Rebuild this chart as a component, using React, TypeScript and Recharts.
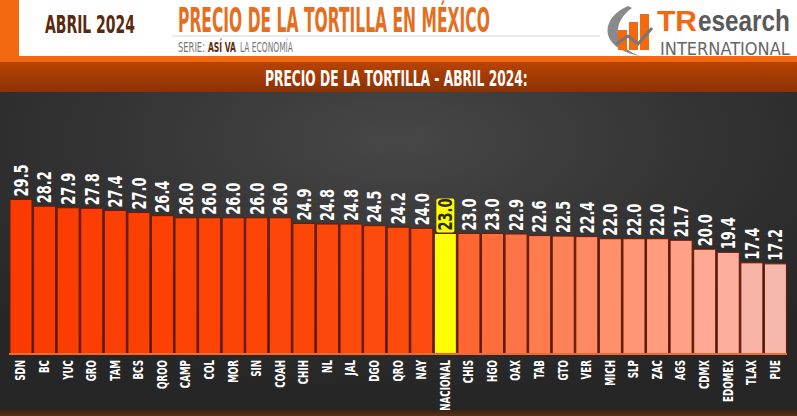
import { useLayoutEffect, useRef, useState } from 'react';
import { Bar, BarChart, Cell, LabelList, XAxis, YAxis } from 'recharts';

const STATES = [
  'SDN', 'BC', 'YUC', 'GRO', 'TAM', 'BCS', 'QROO', 'CAMP', 'COL', 'MOR', 'SIN',
  'COAH', 'CHIH', 'NL', 'JAL', 'DGO', 'QRO', 'NAY', 'NACIONAL', 'CHIS', 'HGO', 'OAX',
  'TAB', 'GTO', 'VER', 'MICH', 'SLP', 'ZAC', 'AGS', 'CDMX', 'EDOMEX', 'TLAX', 'PUE'
];

const PRICES = [
  29.5, 28.2, 27.9, 27.8, 27.4, 27.0, 26.4, 26.0, 26.0, 26.0, 26.0,
  26.0, 24.9, 24.8, 24.8, 24.5, 24.2, 24.0, 23.0, 23.0, 23.0, 22.9,
  22.6, 22.5, 22.4, 22.0, 22.0, 22.0, 21.7, 20.0, 19.4, 17.4, 17.2
];

const NATIONAL = 'NACIONAL';

// bar palette, strongest price first
const BAR_COLORS = [
  '#fb3a02', '#fb3c02', '#fc3d03', '#fc3e03', '#fc3f04', '#fc4004', '#fd4105', '#fd4206',
  '#fd4306', '#fd4407', '#fd4508', '#fd4609', '#fd470a', '#fd480b', '#fd490c', '#fd4a0d',
  '#fd4b0e', '#fd4c0f', '#ffff00', '#ff6633', '#ff6d3c', '#ff7446', '#ff7b50', '#ff8259',
  '#ff8963', '#ff906c', '#ff9775', '#ff9c7e', '#ffa187', '#fea994', '#fdae9c', '#f8b4a7',
  '#f5b8ab'
];

const data = STATES.map((state, i) => ({ state, price: PRICES[i] }));

const NARROW = "'Liberation Sans Narrow', 'DejaVu Sans Condensed', sans-serif";

// squeezes a header text horizontally to a wanted width
function FitText(props: any) {
  const { x, y, width, children, ...rest } = props;
  const ref = useRef<SVGTextElement>(null);
  const [sx, setSx] = useState(1);
  useLayoutEffect(() => {
    if (ref.current) {
      const len = ref.current.getComputedTextLength();
      if (len > 0) setSx(width / len);
    }
  }, [width]);
  return (
    <text ref={ref} x={0} y={0} transform={`translate(${x},${y}) scale(${sx},1)`} {...rest}>
      {children}
    </text>
  );
}

function ValueLabel(props: any) {
  const { x, y, width, value, index } = props;
  const cx = Number(x) + Number(width) / 2;
  const top = Number(y);
  const isNational = STATES[index] === NATIONAL;
  return (
    <g>
      {isNational && (
        <rect x={cx - 9} y={top - 35} width={18} height={34} rx={2} fill="#ffff00" />
      )}
      <text
        transform={`translate(${cx},${top - 3}) rotate(-90) scale(0.74,1)`}
        textAnchor="start"
        dominantBaseline="central"
        fontFamily={NARROW}
        fontWeight="bold"
        fontSize={19.5}
        fill={isNational ? '#2a2a00' : '#ffffff'}
      >
        {Number(value).toFixed(1)}
      </text>
    </g>
  );
}

function StateTick(props: any) {
  const { x, y, payload } = props;
  return (
    <text
      transform={`translate(${x},${Number(y) + 6}) rotate(-90) scale(0.72,1)`}
      textAnchor="end"
      dominantBaseline="central"
      fontFamily={NARROW}
      fontWeight="bold"
      fontSize={13.5}
      fill="#ffffff"
    >
      {payload.value}
    </text>
  );
}

function Header() {
  return (
    <svg width={797} height={92} style={{ position: 'absolute', left: 0, top: 0 }}>
      <defs>
        <linearGradient id="bandGrad" x1="0" y1="0" x2="0" y2="1">
          <stop offset="0%" stopColor="#b84303" />
          <stop offset="100%" stopColor="#8c3203" />
        </linearGradient>
      </defs>
      <rect x={0} y={0} width={797} height={57} fill="#ffffff" />
      <rect x={0} y={0} width={19} height={57} fill="#f2690f" />
      <rect x={0} y={56} width={797} height={6} fill="#f2690f" />
      <rect x={0} y={62} width={797} height={30} fill="url(#bandGrad)" />
      <line x1={172} y1={36} x2={600} y2={36} stroke="#d6d6d6" strokeWidth={1} />

      <FitText x={45} y={33} width={90} fontFamily={NARROW} fontWeight="bold" fontSize={25}
        fill="#5b2a0e">
        ABRIL 2024
      </FitText>
      <FitText x={178} y={32} width={312} fontFamily={NARROW} fontWeight="bold" fontSize={33}
        fill="#e46f1f">
        PRECIO DE LA TORTILLA EN MÉXICO
      </FitText>
      <FitText x={178} y={52} width={27} fontFamily={NARROW} fontSize={14} fill="#777777">
        SERIE:
      </FitText>
      <FitText x={208} y={52} width={28} fontFamily={NARROW} fontWeight="bold" fontSize={14}
        fill="#5b2a0e">
        ASÍ VA
      </FitText>
      <FitText x={240} y={52} width={53} fontFamily={NARROW} fontSize={14} fill="#777777">
        LA ECONOMÍA
      </FitText>

      {/* logo */}
      <path d="M628 6 C600 18 598 48 640 56 C612 46 612 22 632 8 Z" fill="#8a8a8a" />
      <rect x={618} y={30} width={9} height={20} fill="#f2690f" />
      <rect x={629} y={22} width={9} height={28} fill="#f2690f" />
      <rect x={640} y={14} width={9} height={36} fill="#f2690f" />
      <polyline points="616,44 628,36 638,44 652,28" fill="none" stroke="#777777" strokeWidth={3} />
      <FitText x={657} y={31} width={40} fontFamily="'Liberation Sans', Arial, sans-serif"
        fontWeight="bold" fontSize={29} fill="#f2690f">
        TR
      </FitText>
      <FitText x={698} y={31} width={92} fontFamily="'Liberation Sans', Arial, sans-serif"
        fontWeight="bold" fontSize={29} fill="#5a5a5a">
        esearch
      </FitText>
      <FitText x={660} y={55} width={130} fontFamily={NARROW} fontSize={17} fill="#666666">
        INTERNATIONAL
      </FitText>

      <FitText x={265} y={86} width={263} fontFamily={NARROW} fontWeight="bold" fontSize={21}
        fill="#ffffff">
        PRECIO DE LA TORTILLA - ABRIL 2024:
      </FitText>
    </svg>
  );
}

export default function App() {
  return (
    <div
      style={{
        position: 'absolute',
        left: 0,
        top: 0,
        width: 797,
        height: 416,
        overflow: 'hidden',
        background: '#2a2a2a'
      }}
    >
      <Header />
      <div
        style={{
          position: 'absolute',
          left: 0,
          top: 92,
          width: 797,
          height: 318,
          background:
            'radial-gradient(ellipse 70% 80% at 50% 15%, #474747 0%, #333333 55%, #262626 100%)'
        }}
      >
        <BarChart
          width={797}
          height={318}
          data={data}
          margin={{ top: 0, right: 10, bottom: 0, left: 9 }}
          barCategoryGap={1}
        >
          <XAxis
            dataKey="state"
            interval={0}
            height={56}
            tickSize={0}
            tickMargin={0}
            tickLine={false}
            axisLine={{ stroke: '#ec6a34', strokeWidth: 2 }}
            tick={<StateTick />}
          />
          <YAxis hide domain={[0, 50]} />
          <Bar dataKey="price" isAnimationActive={false} stroke="#6e1804" strokeWidth={1}>
            {data.map((d, i) => (
              <Cell key={d.state} fill={BAR_COLORS[i]} />
            ))}
            <LabelList dataKey="price" content={<ValueLabel />} />
          </Bar>
        </BarChart>
      </div>
      <div
        style={{
          position: 'absolute',
          left: 0,
          top: 410,
          width: 797,
          height: 6,
          background: 'linear-gradient(#3a2418, #5a2e14)'
        }}
      />
    </div>
  );
}
